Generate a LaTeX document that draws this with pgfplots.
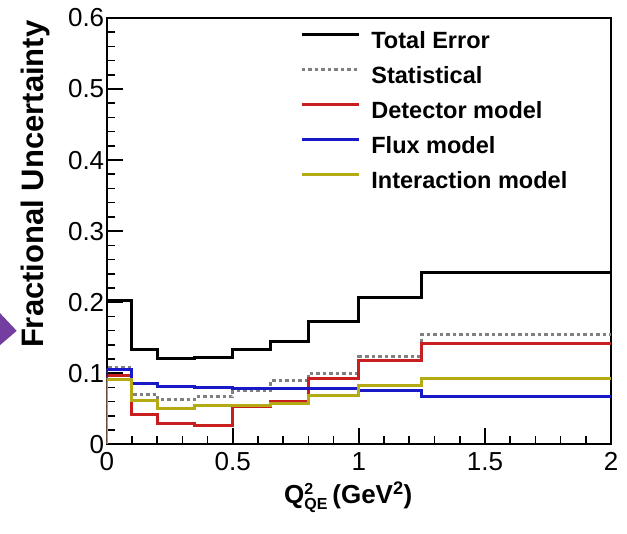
\documentclass[border=0pt]{standalone}
\usepackage{pgfplots}
\pgfplotsset{compat=1.18}
\usepackage{pgfplotstable}
\usepackage{fontspec}
\setmainfont{Liberation Sans}
\definecolor{rootred}{RGB}{200,30,30}
\definecolor{rootblue}{RGB}{25,25,200}
\definecolor{rootolive}{RGB}{180,170,20}
\definecolor{arrowpurple}{RGB}{115,62,160}
% columns: lower bin edge, total, stat, detector, flux, interaction
\pgfplotstableread{
x     tot    stat   det    flux   int
0     0      0      0      0      0
0     0.202  0.108  0.097  0.105  0.091
0.1   0.134  0.070  0.042  0.085  0.061
0.2   0.120  0.063  0.029  0.081  0.050
0.35  0.122  0.067  0.026  0.080  0.054
0.5   0.134  0.075  0.053  0.078  0.054
0.65  0.145  0.089  0.060  0.078  0.057
0.8   0.173  0.100  0.093  0.079  0.068
1.0   0.207  0.123  0.118  0.076  0.083
1.25  0.242  0.155  0.142  0.067  0.092
2.0   0.242  0.155  0.142  0.067  0.092
}\unc
\begin{document}
\begin{tikzpicture}
\begin{axis}[
  scale only axis,
  width=504pt, height=426pt,
  xmin=0, xmax=2, ymin=0, ymax=0.6,
  xtick={0,0.5,1,1.5,2},
  ytick={0,0.1,0.2,0.3,0.4,0.5,0.6},
  minor x tick num=4,
  minor y tick num=4,
  tick pos=left,
  tick align=inside,
  major tick length=16pt,
  minor tick length=8pt,
  every tick/.style={black, line width=1.6pt},
  axis line style={line width=2.2pt},
  /pgf/number format/assume math mode=true,
  /pgf/number format/fixed,
  ticklabel style={font=\fontsize{26}{30}\selectfont},
  yticklabel style={xshift=1pt},
  xticklabel style={yshift=-5pt},
  xlabel={\textbf{Q}$^{\mbox{\fontsize{16}{16}\selectfont\bfseries 2}}_{\mbox{\fontsize{16}{16}\selectfont\bfseries QE}}$\,\textbf{(GeV\textsuperscript{2})}},
  xlabel style={font=\fontsize{26}{28}\selectfont\bfseries, at={(axis description cs:0.479,-0.125)}, anchor=center},
  ylabel={Fractional Uncertainty},
  ylabel style={font=\fontsize{31}{34}\selectfont\bfseries, at={(axis description cs:-0.141,0.61)}, anchor=center, rotate=0},
  legend cell align=left,
  legend style={at={(axis description cs:0.3835,0.9754)}, anchor=north west,
    draw=none, fill=none, inner sep=0pt,
    font=\fontsize{23.5}{26}\selectfont\bfseries,
    row sep=12pt, column sep=0pt,
    nodes={text height=17pt, text depth=0pt, inner ysep=3pt, inner xsep=0pt},
    /tikz/every odd column/.append style={column sep=11pt}},
  legend image code/.code={\draw[#1, line width=3pt] (0pt,6pt) -- (57pt,6pt);},
  clip=true,
]
\addplot[const plot, black, line width=3pt] table[x=x, y=tot] {\unc};
\addlegendentry{Total Error}
\addplot[const plot, gray, line width=3pt, dash pattern=on 3.5pt off 3pt] table[x=x, y=stat] {\unc};
\addlegendentry{Statistical}
\addplot[const plot, rootred, line width=3pt] table[x=x, y=det] {\unc};
\addlegendentry{Detector model}
\addplot[const plot, rootblue, line width=3pt] table[x=x, y=flux] {\unc};
\addlegendentry{Flux model}
\addplot[const plot, rootolive, line width=3pt] table[x=x, y=int] {\unc};
\addlegendentry{Interaction model}
\coordinate (sw) at (rel axis cs:0,0);
\coordinate (ne) at (rel axis cs:1,1);
\end{axis}
\fill[arrowpurple] ([shift={(-106.7pt,131pt)}]sw) -- ([shift={(-90pt,113.3pt)}]sw) -- ([shift={(-106.7pt,99pt)}]sw) -- cycle;
\pgfresetboundingbox
\path ([shift={(-106.7pt,-89pt)}]sw) rectangle ([shift={(16pt,18pt)}]ne);
\end{tikzpicture}
\end{document}
